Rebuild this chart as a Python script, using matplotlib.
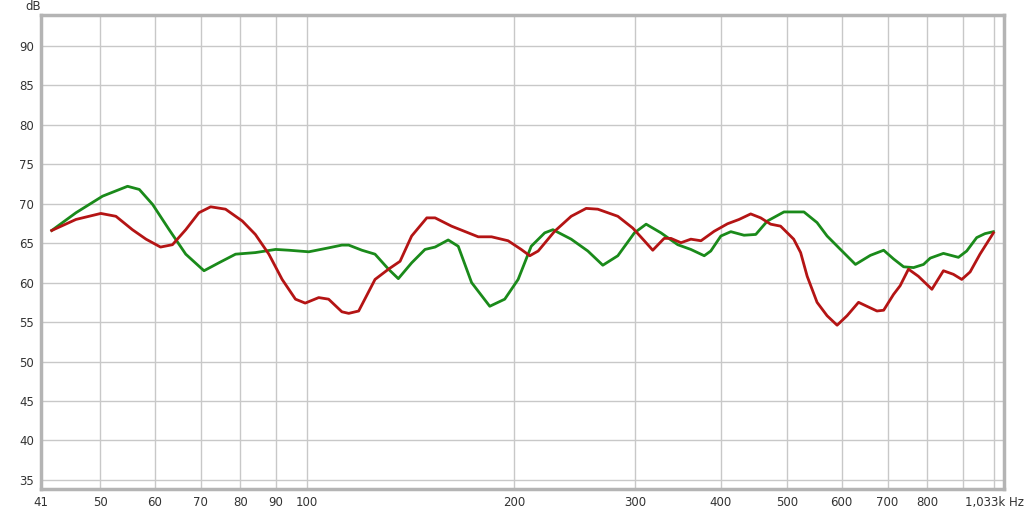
import matplotlib.pyplot as plt

# red trace (Hz, dB)
red_f = [42.5, 46.1, 50.1, 52.7, 55.7, 58.3, 61.2, 63.7, 66.6, 69.6, 72.4, 76.1,
         80.5, 84.1, 88.0, 92.0, 96.2, 99.4, 104, 107.5, 112.4, 115, 118.9, 125.6,
         131.4, 136.6, 142, 149.4, 153.6, 162.3, 177.5, 185.6, 196.2, 205, 211,
         217, 229.3, 242.4, 254.9, 265, 283.4, 298, 309.7, 318.6, 331, 338.6,
         350.2, 362, 374.5, 391.4, 409.3, 425.5, 442.4, 457.5, 473, 489, 511,
         523, 534.6, 552.6, 571.5, 591, 611, 635, 653, 675.5, 690.8, 714, 730,
         750.7, 776, 812, 844, 872.6, 897.5, 923, 954, 998]
red_db = [66.6, 68.0, 68.76, 68.4, 66.7, 65.5, 64.5, 64.8, 66.7, 68.85, 69.6, 69.3,
          67.8, 66.1, 63.6, 60.4, 57.9, 57.4, 58.1, 57.9, 56.3, 56.1, 56.4, 60.4,
          61.7, 62.7, 65.9, 68.2, 68.2, 67.15, 65.8, 65.8, 65.3, 64.2, 63.4,
          64.0, 66.5, 68.4, 69.4, 69.3, 68.4, 66.9, 65.3, 64.1, 65.6, 65.6,
          65.05, 65.5, 65.3, 66.5, 67.45, 68.0, 68.7, 68.2, 67.4, 67.15, 65.5,
          63.8, 60.8, 57.5, 55.8, 54.6, 55.8, 57.5, 57.0, 56.4, 56.5, 58.5, 59.6,
          61.7, 60.8, 59.15, 61.5, 61.05, 60.4, 61.35, 63.6, 66.3]

# green trace (Hz, dB)
green_f = [42.5, 46.1, 50.4, 54.8, 57, 59.6, 63, 66.6, 70.8, 74.4, 78.7, 84.1, 90,
           94.1, 100.6, 107.5, 112.4, 115, 120.2, 125.6, 131.4, 135.8, 142, 148.5,
           153.6, 160.5, 166, 173.6, 184.5, 194, 202.9, 212, 221.8, 228, 242.4,
           256.3, 269.5, 283.4, 299.6, 311.6, 327.5, 346.4, 362, 378.6, 387,
           400.3, 413.9, 432.6, 450, 467.8, 494.6, 528.8, 552.6, 571.5, 597.7,
           628.5, 660.7, 690.8, 714, 738.6, 763.6, 789.5, 807.5, 844, 887.5,
           912.5, 943.6, 970, 998]
green_db = [66.6, 68.85, 70.95, 72.2, 71.8, 69.9, 66.7, 63.6, 61.5, 62.5, 63.6, 63.8,
            64.2, 64.1, 63.9, 64.4, 64.75, 64.75, 64.1, 63.6, 61.7, 60.5, 62.5, 64.2,
            64.5, 65.4, 64.6, 60.0, 57.0, 57.9, 60.4, 64.6, 66.3, 66.7, 65.5,
            64.0, 62.2, 63.4, 66.3, 67.4, 66.3, 64.8, 64.2, 63.4, 64.0,
            65.9, 66.45, 66.0, 66.1, 67.8, 68.95, 68.95, 67.6, 65.9, 64.2,
            62.3, 63.45, 64.1, 63.0, 62.0, 61.9, 62.3, 63.1, 63.7, 63.2,
            64.0, 65.7, 66.2, 66.45]

x_ticks = [41, 50, 60, 70, 80, 90, 100, 200, 300, 400, 500, 600, 700, 800, 900, 1000]
x_labels = ['41', '50', '60', '70', '80', '90', '100', '200', '300', '400', '500',
            '600', '700', '800', '', '1,033k Hz']
y_ticks = [35, 40, 45, 50, 55, 60, 65, 70, 75, 80, 85, 90]

fig = plt.figure(figsize=(10.24, 5.12), dpi=100)
ax = fig.add_axes([41 / 1024, (512 - 489) / 512, 963 / 1024, 474 / 512])

ax.plot(green_f, green_db, color='#1a8a1a', lw=2, solid_joinstyle='round', zorder=3)
ax.plot(red_f, red_db, color='#b41414', lw=2, solid_joinstyle='round', zorder=3)

ax.set_xscale('log')
ax.set_xlim(41, 1034)
ax.set_ylim(33.85, 93.9)
ax.set_xticks(x_ticks)
ax.set_xticklabels(x_labels)
ax.xaxis.set_minor_locator(plt.NullLocator())
ax.set_yticks(y_ticks)
ax.tick_params(length=0, labelsize=8.5, labelcolor='#333333', pad=5)
ax.grid(True, color='#c8c8c8', lw=1)
for s in ax.spines.values():
    s.set_color('#b4b4b4')
    s.set_linewidth(2.5)

fig.text(33 / 1024, 1 - 6 / 512, 'dB', fontsize=8.5, color='#333333',
         ha='center', va='center')

plt.savefig('out.png')
